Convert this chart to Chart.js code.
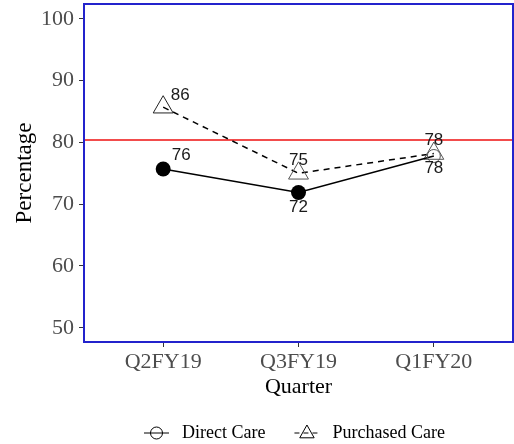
<!DOCTYPE html>
<html lang="en">

<head>
    <meta charset="utf-8">
    <title>Percentage by Quarter</title>
    <script src="https://cdn.jsdelivr.net/npm/chart.js@4.4.0/dist/chart.umd.min.js"></script>
    <style>
        html, body { margin: 0; padding: 0; background: #ffffff; overflow: hidden; }
        #wrap { width: 514px; height: 444px; }
        canvas { display: block; }
    </style>
</head>

<body>
    <div id="wrap">
        <canvas id="myChart" width="514" height="444"></canvas>
    </div>

    <script>
        // data
        const quarters = ['Q2FY19', 'Q3FY19', 'Q1FY20']
        const directCare = [75.7, 71.9, 77.8]
        const purchasedCare = [85.7, 75.0, 78.2]
        const directLabels = ['76', '72', '78']
        const purchasedLabels = ['86', '75', '78']
        const yTicks = [50, 60, 70, 80, 90, 100]
        const targetLine = 80.4

        const serif = "'Liberation Serif', 'DejaVu Serif', serif"
        const sans = "'Liberation Sans', Arial, sans-serif"

        // label offsets (px) from each point
        const directOffsets = [[18, -14], [0, 15], [0, 12]]
        const purchasedOffsets = [[17, -12], [0, -13], [0, -13]]

        const frame = {
            id: 'frame',
            beforeDatasetsDraw(chart) {
                const { ctx, chartArea: a, scales } = chart
                const y = scales.y.getPixelForValue(targetLine)
                ctx.save()
                ctx.strokeStyle = '#ee1111'
                ctx.lineWidth = 1.5
                ctx.beginPath()
                ctx.moveTo(a.left, y)
                ctx.lineTo(a.right, y)
                ctx.stroke()
                ctx.restore()
            },
            afterDatasetsDraw(chart) {
                const { ctx, chartArea: a } = chart
                ctx.save()
                // value labels
                ctx.font = '17px ' + sans
                ctx.fillStyle = '#1a1a1a'
                ctx.textAlign = 'center'
                ctx.textBaseline = 'middle'
                const sets = [[0, directLabels, directOffsets], [1, purchasedLabels, purchasedOffsets]]
                for (const [di, labels, offs] of sets) {
                    const meta = chart.getDatasetMeta(di)
                    meta.data.forEach((pt, i) => {
                        ctx.fillText(labels[i], pt.x + offs[i][0], pt.y + offs[i][1])
                    })
                }
                // panel border
                ctx.strokeStyle = '#2323cc'
                ctx.lineWidth = 2
                ctx.strokeRect(a.left, a.top, a.right - a.left, a.bottom - a.top)
                ctx.restore()
            },
            afterDraw(chart) {
                // legend, ggplot style (shape with line through it)
                const { ctx } = chart
                const items = chart.data.datasets
                ctx.save()
                ctx.font = '18px ' + serif
                ctx.textBaseline = 'middle'
                const keyW = 25, gap = 13, between = 29
                let x = 144
                const y = 433
                items.forEach((d, i) => {
                    const cx = x + keyW / 2
                    ctx.strokeStyle = '#000'
                    ctx.lineWidth = 1
                    ctx.setLineDash(d.borderDash ? [5, 4] : [])
                    ctx.beginPath()
                    ctx.moveTo(x, y)
                    ctx.lineTo(x + keyW, y)
                    ctx.stroke()
                    ctx.setLineDash([])
                    ctx.beginPath()
                    if (d.pointStyle === 'triangle') {
                        const r = 8
                        ctx.moveTo(cx, y - r)
                        ctx.lineTo(cx + r * 0.9, y + r * 0.6)
                        ctx.lineTo(cx - r * 0.9, y + r * 0.6)
                        ctx.closePath()
                    } else {
                        ctx.arc(cx, y, 6, 0, Math.PI * 2)
                    }
                    ctx.stroke()
                    ctx.fillStyle = '#000'
                    ctx.fillText(d.label, x + keyW + gap, y)
                    x += keyW + gap + ctx.measureText(d.label).width + between
                })
                ctx.restore()
            }
        }

        const config = {
            type: 'line',
            data: {
                datasets: [{
                    label: 'Direct Care',
                    data: directCare.map((v, i) => ({ x: i, y: v })),
                    borderColor: '#000000',
                    backgroundColor: '#000000',
                    borderWidth: 1.5,
                    pointStyle: 'circle',
                    pointRadius: [7.5, 7.5, 6.5],
                    pointBorderWidth: [0, 0, 1],
                    pointBorderColor: ['#000000', '#000000', '#555555'],
                    pointBackgroundColor: ['#000000', '#000000', 'rgba(0,0,0,0)']
                }, {
                    label: 'Purchased Care',
                    data: purchasedCare.map((v, i) => ({ x: i, y: v })),
                    borderColor: '#000000',
                    borderWidth: 1.5,
                    borderDash: [6, 5],
                    pointStyle: 'triangle',
                    pointRadius: 11.5,
                    pointBorderWidth: 1,
                    pointBorderColor: ['#222222', '#555555', '#555555'],
                    pointBackgroundColor: 'rgba(0,0,0,0)'
                }]
            },
            options: {
                responsive: false,
                animation: false,
                devicePixelRatio: 1,
                layout: { autoPadding: false, padding: { top: 4, right: 1, bottom: 44, left: 0 } },
                plugins: {
                    legend: { display: false },
                    tooltip: { enabled: false }
                },
                scales: {
                    x: {
                        type: 'linear',
                        min: -0.585,
                        max: 2.585,
                        afterBuildTicks: scale => { scale.ticks = quarters.map((q, i) => ({ value: i })) },
                        afterFit: scale => {
                            scale.height = 58
                            scale.paddingLeft = 0
                            scale.paddingRight = 0
                        },
                        grid: { drawOnChartArea: false, drawTicks: true, tickLength: 5, color: '#333333' },
                        border: { display: false },
                        ticks: {
                            callback: v => quarters[v],
                            color: '#4d4d4d',
                            font: { family: serif, size: 22 },
                            padding: 2,
                            maxRotation: 0
                        },
                        title: {
                            display: true,
                            text: 'Quarter',
                            color: '#000000',
                            font: { family: serif, size: 22 },
                            padding: { top: 0, bottom: 0 }
                        }
                    },
                    y: {
                        min: 47.7,
                        max: 102.4,
                        afterBuildTicks: scale => { scale.ticks = yTicks.map(v => ({ value: v })) },
                        afterFit: scale => {
                            scale.width = 84
                            scale.paddingTop = 0
                            scale.paddingBottom = 0
                        },
                        grid: { drawOnChartArea: false, drawTicks: true, tickLength: 5, color: '#333333' },
                        border: { display: false },
                        ticks: {
                            color: '#4d4d4d',
                            font: { family: serif, size: 22 },
                            padding: 5
                        },
                        title: {
                            display: true,
                            text: 'Percentage',
                            color: '#000000',
                            font: { family: serif, size: 23 },
                            padding: { top: 11, bottom: 0 }
                        }
                    }
                }
            },
            plugins: [frame]
        }

        const myChart = new Chart(document.getElementById('myChart'), config)
    </script>
</body>

</html>
